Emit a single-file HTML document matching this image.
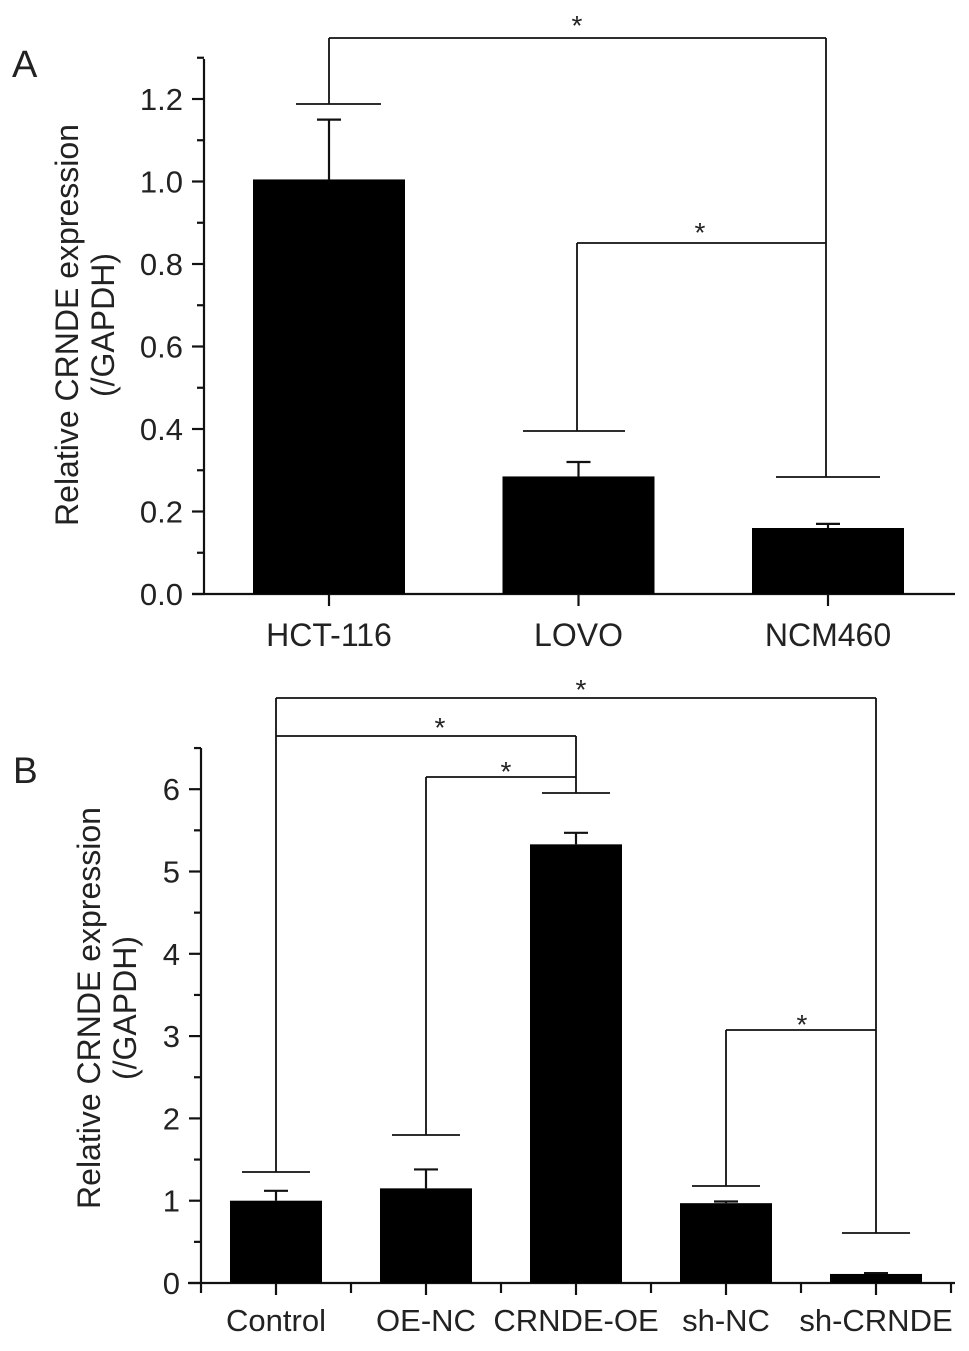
<!DOCTYPE html>
<html><head><meta charset="utf-8"><style>
body{margin:0;background:#fff}
svg text{font-family:"Liberation Sans",Arial,sans-serif;fill:#222}
</style></head><body>
<svg id="s" width="969" height="1346" viewBox="0 0 969 1346"></svg>
<script>
const catsA=["HCT-116","LOVO","NCM460"];
const valsA=[1.005,0.285,0.16];
const errA=[0.145,0.035,0.01];
const ticksA=["0.0","0.2","0.4","0.6","0.8","1.0","1.2"];
const catsB=["Control","OE-NC","CRNDE-OE","sh-NC","sh-CRNDE"];
const valsB=[1.0,1.15,5.33,0.97,0.11];
const errB=[0.12,0.23,0.14,0.02,0.01];
const ticksB=["0","1","2","3","4","5","6"];
const NS="http://www.w3.org/2000/svg",S=document.getElementById('s');
function el(t,a,txt){const e=document.createElementNS(NS,t);for(const k in a)e.setAttribute(k,a[k]);if(txt!=null)e.textContent=txt;S.appendChild(e);return e;}
function ln(x1,y1,x2,y2,w){return el('line',{x1,y1,x2,y2,stroke:'#111','stroke-width':w||2.2});}
function star(x,cy){const s=el('text',{x:x,y:cy+15,'font-size':28,'text-anchor':'middle'},'*');
 
 }
// Panel A
const yA=v=>594-v*412.5, xA=i=>329+i*249.5;
let t=el('text',{x:12,y:77,'font-size':38},'A');


ln(204,59,204,594);ln(192,594,955,594);
ticksA.forEach((s,i)=>{const v=i*0.2;ln(192,yA(v),204,yA(v));
 const tx=el('text',{x:183,y:yA(v)+11,'font-size':31,'text-anchor':'end'},s);
 
 
 ln(197,yA(v+0.1),204,yA(v+0.1));});
t=el('text',{transform:'translate(78,325) rotate(-90)','font-size':32,'text-anchor':'middle'},'Relative CRNDE expression');


t=el('text',{transform:'translate(114,325) rotate(-90)','font-size':32,'text-anchor':'middle'},'(/GAPDH)');


catsA.forEach((c,i)=>{const x=xA(i);
 ln(x,yA(valsA[i]+errA[i]),x,yA(valsA[i]));ln(x-12,yA(valsA[i]+errA[i]),x+12,yA(valsA[i]+errA[i]));
 const r=el('rect',{x:x-76,y:yA(valsA[i]),width:152,height:594-yA(valsA[i]),fill:'#000'});
 
 
 ln(x,594,x,606);
 const tx=el('text',{x:x,y:646,'font-size':32,'text-anchor':'middle'},c);
 
 });
// brackets A
ln(296,104,381,104,1.8);ln(329,104,329,38,1.8);ln(329,38,826,38,1.8);ln(826,38,826,477,1.8);ln(776,477,880,477,1.8);
star(577,20);
ln(826,243,577,243,1.8);ln(577,243,577,431,1.8);ln(523,431,625,431,1.8);
star(700,227);
// Panel B
const yB=v=>1283-v*82.3, xB=i=>276+i*150;
t=el('text',{x:13,y:783,'font-size':37},'B');


ln(201,748,201,1283);ln(188,1283,955,1283);
ticksB.forEach((s,i)=>{ln(189,yB(i),201,yB(i));
 const tx=el('text',{x:180,y:yB(i)+11,'font-size':31,'text-anchor':'end'},s);
 
 
 ln(194,yB(i+0.5),201,yB(i+0.5));});
for(let k=0;k<6;k++){const x=201+k*150;ln(x,1283,x,1293);}
t=el('text',{transform:'translate(100,1008) rotate(-90)','font-size':32,'text-anchor':'middle'},'Relative CRNDE expression');


t=el('text',{transform:'translate(136,1008) rotate(-90)','font-size':32,'text-anchor':'middle'},'(/GAPDH)');


catsB.forEach((c,i)=>{const x=xB(i);
 ln(x,yB(valsB[i]+errB[i]),x,yB(valsB[i]));ln(x-12,yB(valsB[i]+errB[i]),x+12,yB(valsB[i]+errB[i]));
 const r=el('rect',{x:x-46,y:yB(valsB[i]),width:92,height:1283-yB(valsB[i]),fill:'#000'});
 
 
 ln(x,1283,x,1295);
 const tx=el('text',{x:x,y:1331,'font-size':31,'text-anchor':'middle'},c);
 
 });
// brackets B
const caps=[[276,1172],[426,1135],[576,793],[726,1186],[876,1233]];
caps.forEach(([x,y])=>ln(x-34,y,x+34,y,1.8));
ln(276,1172,276,698,1.8);ln(276,698,876,698,1.8);ln(876,698,876,1233,1.8);
ln(276,736,576,736,1.8);ln(576,736,576,793,1.8);
ln(426,1135,426,777,1.8);ln(426,777,576,777,1.8);
ln(726,1186,726,1030,1.8);ln(726,1030,876,1030,1.8);
star(581,684);star(440,722);star(506,766);star(802,1019);
</script>
</body></html>
